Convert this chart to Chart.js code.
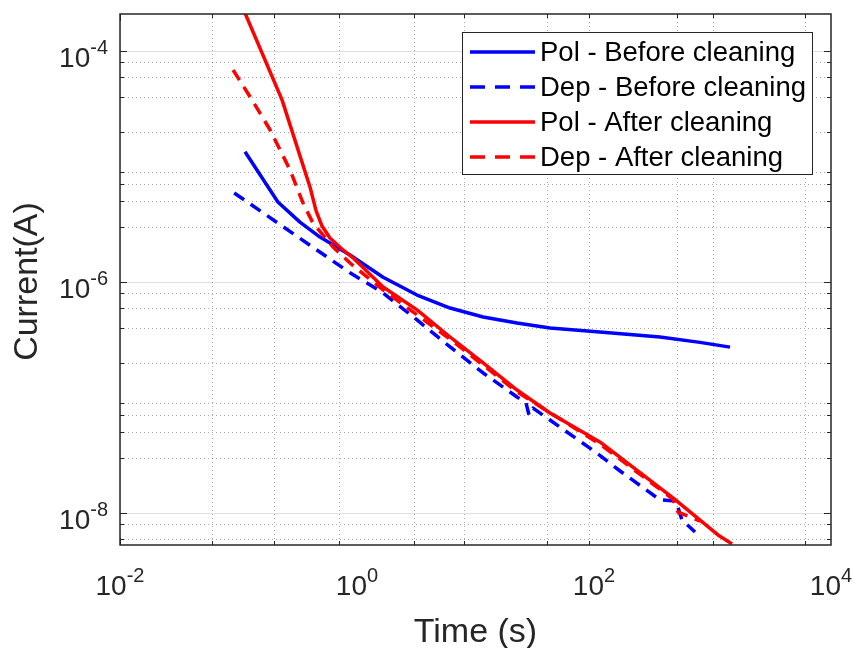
<!DOCTYPE html>
<html>
<head>
<meta charset="utf-8">
<title>Current vs time</title>
<script src="https://cdn.jsdelivr.net/npm/chart.js@4.4.1/dist/chart.umd.min.js"></script>
<style>
    html, body { margin: 0; padding: 0; background: #ffffff; }
    #wrap { width: 854px; height: 648px; }
</style>
</head>
<body>
<div id="wrap"><canvas id="currentChart" width="854" height="648"></canvas></div>
<script>
// Series (time in s, current in A)
const polBeforeTime = [0.1135, 0.215, 0.33, 0.487, 0.873, 1.66, 3.21, 6.10, 11.6, 22.4, 42.5, 112, 360, 784, 1406];
const polBeforeCurrent = [1.34e-5, 4.93e-6, 3.3e-6, 2.45e-6, 1.71e-6, 1.10e-6, 7.71e-7, 5.95e-7, 4.98e-7, 4.42e-7, 4.0e-7, 3.69e-7, 3.34e-7, 3.0e-7, 2.73e-7];

const depBeforeTime = [0.092, 0.873, 1.66, 3.21, 6.10, 11.6, 22.4, 26.7, 28.3, 30.6, 42.5, 106, 166, 360, 492, 553, 712];
const depBeforeCurrent = [5.9e-6, 1.20e-6, 8.04e-7, 4.69e-7, 2.74e-7, 1.63e-7, 1.01e-7, 8.95e-8, 7.05e-8, 8.1e-8, 6.38e-8, 3.3e-8, 2.31e-8, 1.3e-8, 1.27e-8, 8.7e-9, 6.84e-9];

const polAfterTime = [0.113, 0.233, 0.401, 0.451, 0.507, 0.591, 0.747, 0.925, 1.66, 3.21, 6.10, 11.6, 22.4, 42.5, 112, 464, 1112, 1462];
const polAfterCurrent = [2.15e-4, 3.77e-5, 6.65e-6, 4.15e-6, 3.05e-6, 2.4e-6, 1.93e-6, 1.62e-6, 9.06e-7, 5.73e-7, 3.34e-7, 1.99e-7, 1.16e-7, 7.34e-8, 4.12e-8, 1.35e-8, 6.46e-9, 5.4e-9];

const depAfterTime = [0.090, 0.130, 0.185, 0.272, 0.350, 0.425, 0.627, 0.873, 1.66, 6.10, 22.4, 112, 464, 512, 785];
const depAfterCurrent = [6.84e-5, 3.77e-5, 2.07e-5, 9.33e-6, 4.83e-6, 3.24e-6, 2.01e-6, 1.46e-6, 8.53e-7, 3.2e-7, 1.12e-7, 3.95e-8, 1.32e-8, 1.02e-8, 8.5e-9];

const seriesLabels = ['Pol - Before cleaning', 'Dep - Before cleaning', 'Pol - After cleaning', 'Dep - After cleaning'];

// Axis limits and labelled ticks (powers of ten)
const xMin = 1e-2, xMax = 1e4;
const yMin = Math.pow(10, -8.277), yMax = Math.pow(10, -3.68);
const xTickExps = [-2, 0, 2, 4];
const yTickExps = [-8, -6, -4];

const FONT = "'Liberation Sans', Arial, Helvetica, sans-serif";
const AXIS_COLOR = '#262626';

function toPoints(times, values) {
    return times.map((t, i) => ({ x: t, y: values[i] }));
}

// every 1..9 x 10^n between min and max
function logTicks(min, max) {
    const ticks = [];
    for (let e = Math.floor(Math.log10(min)); e <= Math.ceil(Math.log10(max)); e++) {
        for (let m = 1; m <= 9; m++) {
            const v = m * Math.pow(10, e);
            if (v >= min * 0.9999 && v <= max * 1.0001) ticks.push({ value: v });
        }
    }
    return ticks;
}

function isMajor(value, exps) {
    return exps.some(e => Math.abs(Math.log10(value) - e) < 1e-6);
}

function drawPow(ctx, exp, x, baseline, align) {
    ctx.font = '28px ' + FONT;
    const w1 = ctx.measureText('10').width;
    ctx.font = '20px ' + FONT;
    const w2 = ctx.measureText(String(exp)).width;
    let left = align === 'right' ? x - w1 - w2 : x - (w1 + w2) / 2;
    ctx.textAlign = 'left';
    ctx.textBaseline = 'alphabetic';
    ctx.font = '28px ' + FONT;
    ctx.fillText('10', left, baseline);
    ctx.font = '20px ' + FONT;
    ctx.fillText(String(exp), left + w1, baseline - 13);
}

// MATLAB-like axes: dotted minor grid, boxed axes, inward ticks, legend
const matlabAxes = {
    id: 'matlabAxes',
    beforeDatasetsDraw(chart) {
        const { ctx, chartArea: a, scales: { x, y } } = chart;
        ctx.save();
        ctx.lineWidth = 1;

        // minor grid
        ctx.strokeStyle = 'rgba(38, 38, 38, 0.4)';
        ctx.setLineDash([1, 3]);
        ctx.beginPath();
        x.ticks.forEach(t => {
            if (isMajor(t.value, xTickExps)) return;
            const px = Math.round(x.getPixelForValue(t.value)) + 0.5;
            ctx.moveTo(px, a.top); ctx.lineTo(px, a.bottom);
        });
        y.ticks.forEach(t => {
            if (isMajor(t.value, yTickExps)) return;
            const py = Math.round(y.getPixelForValue(t.value)) + 0.5;
            ctx.moveTo(a.left, py); ctx.lineTo(a.right, py);
        });
        ctx.stroke();

        // major grid
        ctx.setLineDash([]);
        ctx.strokeStyle = 'rgba(38, 38, 38, 0.15)';
        ctx.beginPath();
        x.ticks.forEach(t => {
            if (!isMajor(t.value, xTickExps)) return;
            const px = Math.round(x.getPixelForValue(t.value)) + 0.5;
            ctx.moveTo(px, a.top); ctx.lineTo(px, a.bottom);
        });
        y.ticks.forEach(t => {
            if (!isMajor(t.value, yTickExps)) return;
            const py = Math.round(y.getPixelForValue(t.value)) + 0.5;
            ctx.moveTo(a.left, py); ctx.lineTo(a.right, py);
        });
        ctx.stroke();
        ctx.restore();
    },
    afterDatasetsDraw(chart) {
        const { ctx, chartArea: a, scales: { x, y } } = chart;
        ctx.save();

        // tick marks on all four sides, pointing inwards
        ctx.strokeStyle = AXIS_COLOR;
        ctx.lineWidth = 1;
        ctx.beginPath();
        x.ticks.forEach(t => {
            const len = isMajor(t.value, xTickExps) ? 7 : 4;
            const px = Math.round(x.getPixelForValue(t.value)) + 0.5;
            ctx.moveTo(px, a.bottom); ctx.lineTo(px, a.bottom - len);
            ctx.moveTo(px, a.top); ctx.lineTo(px, a.top + len);
        });
        y.ticks.forEach(t => {
            const len = isMajor(t.value, yTickExps) ? 7 : 4;
            const py = Math.round(y.getPixelForValue(t.value)) + 0.5;
            ctx.moveTo(a.left, py); ctx.lineTo(a.left + len, py);
            ctx.moveTo(a.right, py); ctx.lineTo(a.right - len, py);
        });
        ctx.stroke();

        // box
        ctx.lineWidth = 1.5;
        ctx.strokeRect(a.left, a.top, a.right - a.left, a.bottom - a.top);

        // tick labels
        ctx.fillStyle = AXIS_COLOR;
        xTickExps.forEach(e => {
            drawPow(ctx, e, x.getPixelForValue(Math.pow(10, e)), a.bottom + 50, 'center');
        });
        yTickExps.forEach(e => {
            drawPow(ctx, e, a.left - 12, y.getPixelForValue(Math.pow(10, e)) + 16, 'right');
        });

        // axis titles
        ctx.font = '34px ' + FONT;
        ctx.textAlign = 'center';
        ctx.textBaseline = 'alphabetic';
        ctx.fillText('Time (s)', (a.left + a.right) / 2, 642);
        ctx.save();
        ctx.translate(37, (a.top + a.bottom) / 2 + 2);
        ctx.rotate(-Math.PI / 2);
        ctx.fillText('Current(A)', 0, 0);
        ctx.restore();

        // legend
        const box = { left: 462, top: 32, right: 813, bottom: 175 };
        ctx.fillStyle = '#ffffff';
        ctx.fillRect(box.left, box.top, box.right - box.left, box.bottom - box.top);
        ctx.strokeStyle = AXIS_COLOR;
        ctx.lineWidth = 1;
        ctx.strokeRect(box.left + 0.5, box.top + 0.5, box.right - box.left - 1, box.bottom - box.top - 1);
        ctx.font = '27.5px ' + FONT;
        ctx.textAlign = 'left';
        ctx.textBaseline = 'middle';
        chart.data.datasets.forEach((ds, i) => {
            const rowY = 52 + i * 35;
            ctx.strokeStyle = ds.borderColor;
            ctx.lineWidth = 3.5;
            ctx.setLineDash(ds.borderDash.length ? [15, 10] : []);
            ctx.beginPath();
            ctx.moveTo(470, rowY);
            ctx.lineTo(535, rowY);
            ctx.stroke();
            ctx.setLineDash([]);
            ctx.fillStyle = '#000000';
            ctx.fillText(ds.label, 540, rowY + 1);
        });
        ctx.restore();
    }
};

function makeDataset(label, times, values, color, dashed, order) {
    return {
        label: label,
        data: toPoints(times, values),
        borderColor: color,
        backgroundColor: color,
        borderWidth: 3.5,
        borderDash: dashed ? [12, 8] : [],
        borderJoinStyle: 'round',
        pointRadius: 0,
        tension: 0,
        fill: false,
        order: order
    };
}

document.addEventListener('DOMContentLoaded', () => {
    const ctx = document.getElementById('currentChart').getContext('2d');

    new Chart(ctx, {
        type: 'line',
        data: {
            datasets: [
                makeDataset(seriesLabels[0], polBeforeTime, polBeforeCurrent, '#0000ff', false, 4),
                makeDataset(seriesLabels[1], depBeforeTime, depBeforeCurrent, '#0000ff', true, 3),
                makeDataset(seriesLabels[2], polAfterTime, polAfterCurrent, '#ff0000', false, 2),
                makeDataset(seriesLabels[3], depAfterTime, depAfterCurrent, '#ff0000', true, 1)
            ]
        },
        options: {
            responsive: false,
            animation: false,
            layout: {
                padding: { left: 120, top: 14, right: 23, bottom: 103 }
            },
            scales: {
                x: {
                    type: 'logarithmic',
                    min: xMin,
                    max: xMax,
                    display: false,
                    afterBuildTicks: scale => { scale.ticks = logTicks(xMin, xMax); }
                },
                y: {
                    type: 'logarithmic',
                    min: yMin,
                    max: yMax,
                    display: false,
                    afterBuildTicks: scale => { scale.ticks = logTicks(yMin, yMax); }
                }
            },
            plugins: {
                legend: { display: false },
                tooltip: { enabled: false }
            }
        },
        plugins: [matlabAxes]
    });
});
</script>
</body>
</html>
